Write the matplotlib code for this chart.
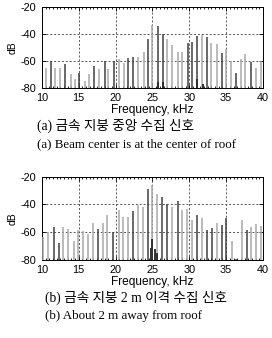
import matplotlib
matplotlib.use('Agg')
import matplotlib.pyplot as plt
from matplotlib.ticker import MultipleLocator

plt.rcParams['axes.unicode_minus'] = False

# (a) beam center at center of roof
freq_a = [10.5, 11.2, 11.8, 12.5, 13.2, 13.9, 14.5, 15.1, 15.8, 16.4, 17.1, 17.8,
          18.5, 19.0, 19.8, 20.5, 21.1, 21.7, 22.4, 23.1, 23.8, 24.4, 25.0, 25.8,
          26.4, 27.0, 27.7, 28.4, 29.0, 29.8, 30.4, 31.1, 31.7, 32.4, 33.0, 33.7,
          34.4, 35.0, 35.7, 36.3, 37.0, 37.6, 38.4, 39.0, 39.7]
db_a = [-65.7, -60.0, -65.7, -65.7, -62.7, -69.9, -73.8, -69.4, -75.0, -70.0,
        -64.0, -66.0, -60.0, -66.4, -60.0, -58.5, -61.7, -58.0, -57.3, -57.3,
        -53.3, -44.2, -33.6, -34.3, -40.5, -44.2, -48.1, -53.6, -53.6, -47.0,
        -46.0, -41.5, -41.2, -42.2, -47.0, -47.6, -54.0, -51.3, -60.0, -69.0,
        -58.5, -54.8, -61.2, -65.2, -60.0]
dark_a = [0, 1, 0, 0, 1, 0, 0, 1, 0, 0, 1, 0, 1, 0, 1, 0, 0, 1, 1, 0, 0, 1, 0, 1,
          1, 0, 0, 0, 0, 1, 1, 1, 0, 1, 0, 0, 1, 0, 0, 1, 0, 0, 1, 0, 0]
small_freq_a = [25.8, 26.4, 31.1, 31.8]
small_db_a = [-76.0, -75.5, -73.5, -77.5]

# (b) about 2 m away from roof
freq_b = [10.1, 10.8, 11.6, 12.3, 12.9, 13.6, 14.3, 14.9, 15.6, 16.3, 16.9, 17.6,
          18.3, 18.9, 19.7, 20.4, 21.0, 21.7, 22.3, 23.0, 23.7, 24.4, 25.0, 25.6,
          26.3, 27.0, 27.7, 28.4, 29.0, 29.7, 30.4, 31.1, 31.7, 32.4, 33.1, 33.7,
          34.4, 35.0, 35.8, 36.4, 37.1, 37.8, 38.4, 39.1, 39.7]
db_b = [-63.5, -60.2, -56.3, -68.1, -56.3, -58.0, -66.7, -58.5, -59.0, -61.4,
        -53.1, -57.7, -53.6, -47.8, -60.0, -44.2, -48.8, -48.8, -44.4, -40.3,
        -42.0, -28.7, -25.8, -32.1, -34.5, -39.4, -42.0, -37.7, -43.9, -43.5,
        -51.5, -47.8, -50.0, -58.7, -57.3, -53.6, -54.6, -49.8, -66.5, -79.0,
        -51.2, -58.7, -56.3, -53.9, -55.8]
dark_b = [0, 0, 1, 1, 0, 0, 0, 0, 0, 0, 0, 1, 0, 0, 1, 0, 0, 0, 1, 0, 0, 1, 0, 0,
          1, 1, 0, 1, 0, 0, 0, 1, 0, 1, 1, 0, 1, 1, 0, 1, 0, 1, 0, 0, 0]
small_freq_b = [24.8, 25.0, 25.3, 25.6]
small_db_b = [-71.3, -64.8, -72.0, -75.2]

caption_a = ['(a) 금속 지붕 중앙 수집 신호', '(a) Beam center is at the center of roof']
caption_b = ['(b) 금속 지붕 2 m 이격 수집 신호', '(b) About 2 m away from roof']

sans = ['Liberation Sans', 'DejaVu Sans']
serif = ['Liberation Serif', 'Noto Sans CJK KR', 'DejaVu Sans']


def draw_panel(ax, freq, db, dark, sfreq, sdb):
    cols = ['#404040' if d else '#a8a8a8' for d in dark]
    ax.vlines(freq, -80, db, colors=cols, linewidth=1.1, zorder=3)
    ax.vlines(sfreq, -80, sdb, colors='#303030', linewidth=1.4, zorder=4)
    ax.set_xlim(10, 40)
    ax.set_ylim(-80, -20)
    ax.xaxis.set_major_locator(MultipleLocator(5))
    ax.xaxis.set_minor_locator(MultipleLocator(0.5))
    ax.yaxis.set_major_locator(MultipleLocator(20))
    ax.grid(True, which='major', linestyle=(0, (2, 2)), color='#555555', linewidth=0.7)
    ax.tick_params(which='both', direction='in', top=True, right=True,
                   labelsize=7.8, width=0.6)
    ax.tick_params(axis='x', pad=3.5)
    ax.tick_params(axis='y', pad=4)
    ax.tick_params(which='major', length=3)
    ax.tick_params(which='minor', length=1.5)
    for lab in ax.get_xticklabels() + ax.get_yticklabels():
        lab.set_family(sans)
    for s in ax.spines.values():
        s.set_linewidth(0.7)
    ax.set_xlabel('Frequency, kHz', fontsize=8.6, family=sans, labelpad=1)
    ax.set_ylabel('dB', fontsize=7.5, family=sans, labelpad=2)


fig = plt.figure(figsize=(2.72, 3.38), dpi=100)
ax1 = fig.add_axes([0.154, 0.7405, 0.813, 0.2395])
ax2 = fig.add_axes([0.154, 0.231, 0.813, 0.246])
draw_panel(ax1, freq_a, db_a, dark_a, small_freq_a, small_db_a)
draw_panel(ax2, freq_b, db_b, dark_b, small_freq_b, small_db_b)

fig.text(37 / 272, 1 - 126 / 338, caption_a[0], fontsize=9.8, family=serif, va='center')
fig.text(37 / 272, 1 - 144 / 338, caption_a[1], fontsize=9.3, family=serif, va='center')
fig.text(45 / 272, 1 - 298 / 338, caption_b[0], fontsize=9.8, family=serif, va='center')
fig.text(45 / 272, 1 - 316 / 338, caption_b[1], fontsize=9.4, family=serif, va='center')

fig.savefig('out.png', dpi=100)
